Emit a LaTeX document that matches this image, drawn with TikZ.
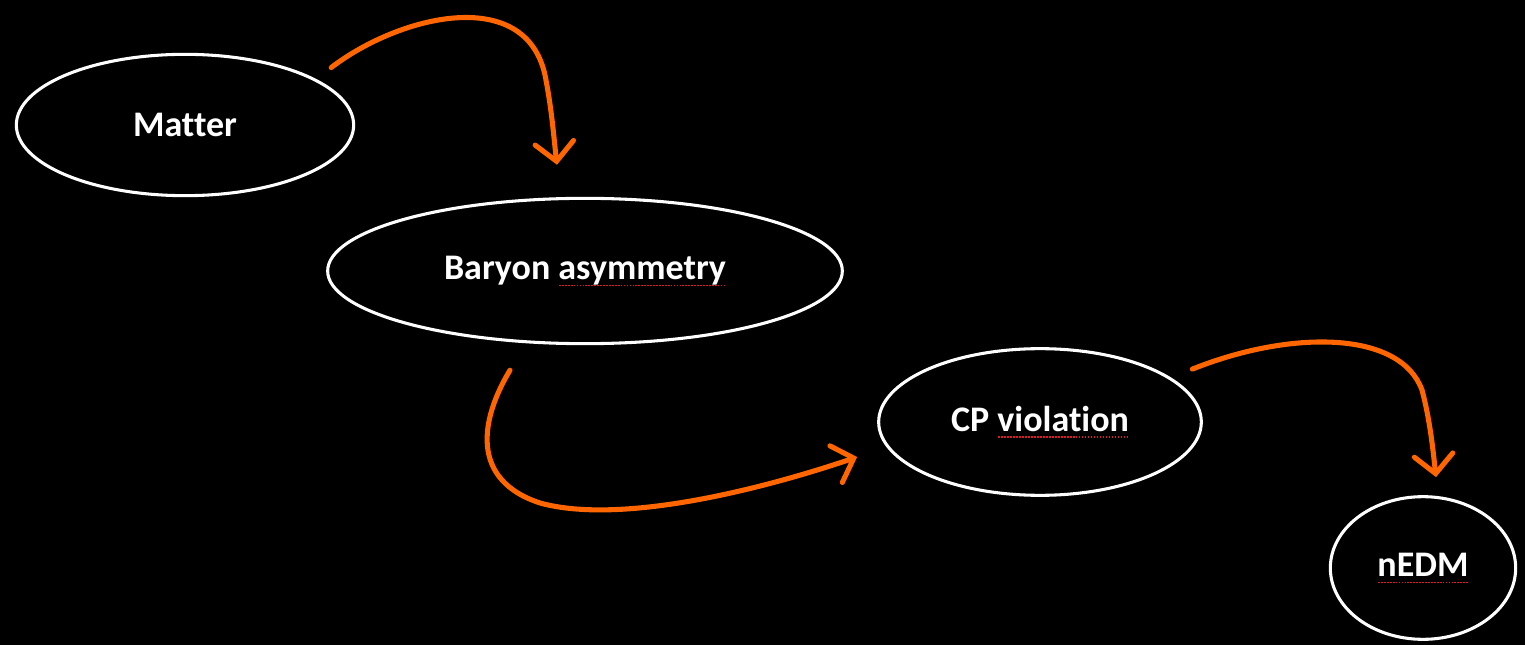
\documentclass[tikz,border=0pt]{standalone}
\usepackage{fontspec}
\setmainfont{Carlito}[Ligatures={NoCommon}]
\usetikzlibrary{shapes.geometric,arrows.meta}
\definecolor{penorange}{RGB}{255,102,0}
\definecolor{spellred}{RGB}{225,25,35}
% spell-check mark under a word
\newcommand{\spellmark}[1]{\setbox0\hbox{#1}\rlap{\raisebox{-5pt}{\color{spellred}\hbox to \wd0{\xleaders\hbox to 2.2pt{\hss\rule{1.3pt}{1.1pt}\hss}\hfill}}}\box0}

\begin{document}
\begin{tikzpicture}[x=0.75pt,y=0.75pt,yscale=-1,xscale=1,
  bubble/.style={draw=white,line width=2.3pt,ellipse,inner sep=0pt,text=white,font=\fontsize{27}{32}\selectfont\bfseries},
  pen/.style={draw=penorange,line width=3.8pt,line cap=round,-{Straight Barb[length=14pt,width=29pt,line cap=round]}}]
%set diagram left start at 0, and has height of 645
\fill[black] (0,0) rectangle (1525,645);
\useasboundingbox (0,0) rectangle (1525,645);

%Shape: Ellipse [Matter]
\node[bubble,minimum width=253pt,minimum height=106pt] (matter) at (185,125) {Matter};
%Shape: Ellipse [Baryon asymmetry]
\node[bubble,minimum width=386pt,minimum height=109pt] (baryon) at (585,271) {Baryon \spellmark{asymmetry}};
%Shape: Ellipse [CP violation]
\node[bubble,minimum width=242pt,minimum height=110pt] (cpv) at (1040,422) {CP \spellmark{violation}};
%Shape: Ellipse [nEDM]
\node[bubble,minimum width=139pt,minimum height=107pt] (nedm) at (1423,568) {\spellmark{nEDM}};

%Curve Lines [Matter -> Baryon asymmetry]
\draw[pen] ([shift={(20,-9)}]matter.21) .. controls (400,15) and (525,-15) .. (545,75) .. controls (552,110) and (554,140) .. ([shift={(-28,-32)}]baryon.north);
%Curve Lines [Baryon asymmetry -> CP violation]
\draw[pen] ([shift={(-75,25)}]baryon.south) .. controls (480,420) and (470,480) .. (540,503) .. controls (620,525) and (760,490) .. ([shift={(-20,35)}]cpv.west);
%Curve Lines [CP violation -> nEDM]
\draw[pen] ([shift={(22,-8)}]cpv.19) .. controls (1290,330) and (1400,330) .. (1422,390) .. controls (1430,420) and (1433,450) .. ([shift={(13,-18)}]nedm.north);

\end{tikzpicture}
\end{document}
